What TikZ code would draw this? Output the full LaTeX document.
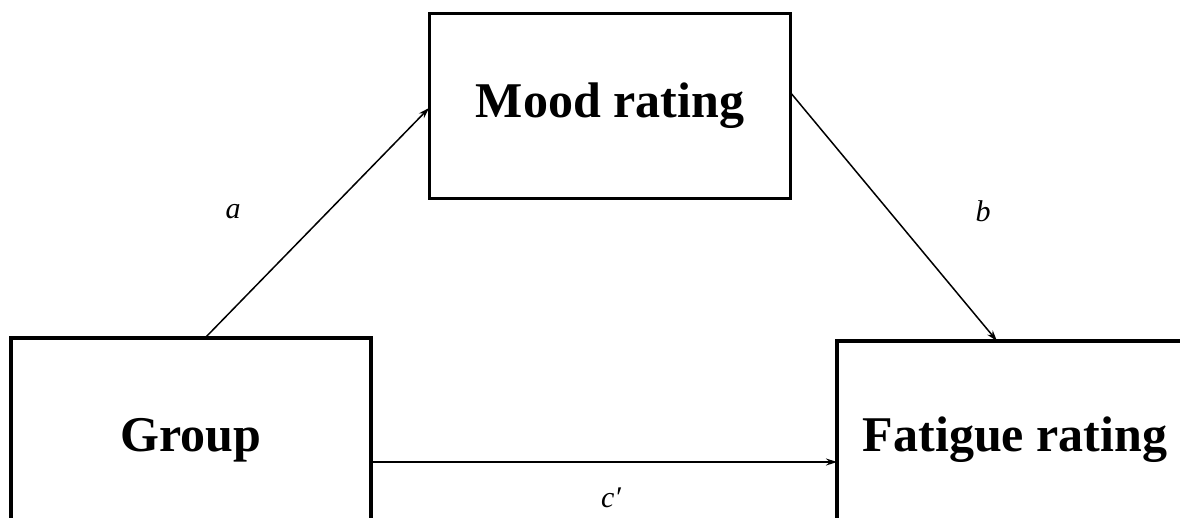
\documentclass[tikz,border=0pt]{standalone}
\usepackage{fontspec}
\setmainfont{Liberation Serif}
\usetikzlibrary{arrows.meta}
\begin{document}
\begin{tikzpicture}[x=1pt,y=-1pt,
  varbox/.style={draw,line width=3.5pt,inner sep=0pt,font=\fontsize{50}{60}\selectfont\bfseries},
  path/.style={line width=1.5pt,-{Stealth[length=11pt,width=7pt]}},
  lab/.style={font=\fontsize{30}{36}\selectfont\itshape}]
\useasboundingbox (0,0) rectangle (1180,517);
\clip (0,0) rectangle (1180,517);
\node[varbox,minimum width=361pt,minimum height=185pt] (mood) at (610,106) {Mood rating};
\node[varbox,minimum width=360pt,minimum height=204pt] (group) at (191,440) {Group};
\node[varbox,minimum width=356pt,minimum height=198pt] (fatigue) at (1015,440) {Fatigue rating};
\coordinate (gtop) at (205,338);
\coordinate (min) at (429,108);
\coordinate (mout) at (790,92);
\coordinate (ftop) at (997,341);
\coordinate (gright) at (371,462);
\coordinate (fleft) at (837,462);
\draw[path] (gtop) -- (min);
\draw[path] (mout) -- (ftop);
\draw[path] (gright) -- (fleft);
\node[lab] (la) at (233,212) {a};
\node[lab] (lb) at (983,211) {b};
\node[lab] (lc) at (611,498) {c′};
\end{tikzpicture}
\end{document}
